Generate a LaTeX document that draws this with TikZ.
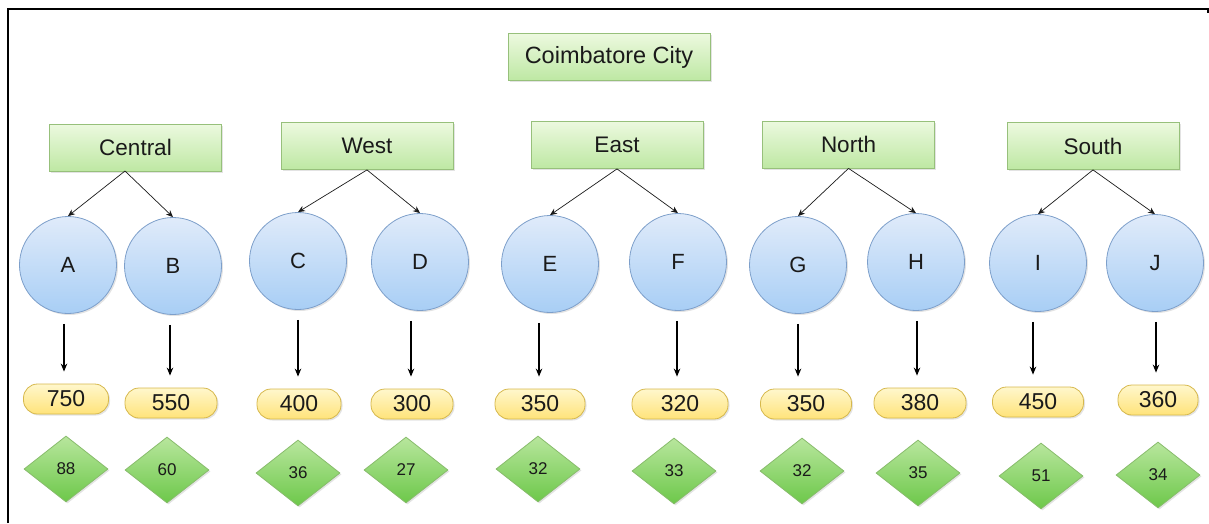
\documentclass[tikz,border=0pt]{standalone}
\usepackage{fontspec}
\setmainfont{Liberation Sans}
\usetikzlibrary{shapes.geometric,shadows,arrows.meta}

\definecolor{boxtop}{HTML}{ECF9DF}
\definecolor{boxbot}{HTML}{BEE8A3}
\definecolor{boxline}{HTML}{97C07B}
\definecolor{cirtop}{HTML}{E0EBFA}
\definecolor{cirbot}{HTML}{A8CEF5}
\definecolor{cirline}{HTML}{7D9FCA}
\definecolor{pilltop}{HTML}{FFF7CC}
\definecolor{pillbot}{HTML}{FFE37A}
\definecolor{pillline}{HTML}{D6B84C}
\definecolor{diatop}{HTML}{B8E69D}
\definecolor{diabot}{HTML}{6DC84A}
\definecolor{dialine}{HTML}{88BC6C}
\definecolor{ink}{HTML}{1A1A1A}

\tikzset{
  soft/.style={drop shadow={opacity=0.22, shadow xshift=1.5pt, shadow yshift=-1.5pt}},
  zonebox/.style={rectangle, draw=boxline, line width=0.8pt, top color=boxtop, bottom color=boxbot,
    minimum width=172pt, minimum height=47pt, inner sep=0pt, font=\fontsize{22.5}{26}\selectfont, text=ink, soft},
  titlebox/.style={zonebox, minimum width=202pt, minimum height=47pt, font=\fontsize{23.5}{27}\selectfont},
  area/.style={circle, draw=cirline, line width=0.8pt, top color=cirtop, bottom color=cirbot,
    minimum size=97pt, inner sep=0pt, font=\fontsize{22}{25}\selectfont, text=ink, soft},
  pill/.style={rectangle, rounded corners=14pt, draw=pillline, line width=0.8pt, top color=pilltop, bottom color=pillbot,
    minimum height=30pt, inner sep=0pt, font=\fontsize{23}{27}\selectfont, text=ink, soft},
  gem/.style={diamond, draw=dialine, line width=0.8pt, top color=diatop, bottom color=diabot,
    minimum width=84pt, minimum height=66pt, inner sep=0pt, font=\fontsize{17}{20}\selectfont, text=ink, soft},
  branch/.style={line width=0.7pt, draw=ink, -{Stealth[length=7pt,width=6pt]}},
  drop/.style={line width=1.8pt, draw=black, -{Stealth[length=8pt,width=6.5pt]}, shorten <=10pt, shorten >=12pt}
}

\begin{document}
\begin{tikzpicture}[x=1pt,y=-1pt]
\useasboundingbox (0,0) rectangle (1209,523);

% outer frame (top and left edges)
\draw[line width=1.8pt] (8,523) -- (8,9) -- (1208,9) -- (1208,13);

% title
\node[titlebox] (city) at (609,57) {Coimbatore City};

% zones
\node[zonebox] (central) at (135.5,147.5) {Central};
\node[zonebox] (west)    at (367,146)     {West};
\node[zonebox] (east)    at (617,145)     {East};
\node[zonebox] (north)   at (848.5,144.5) {North};
\node[zonebox] (south)   at (1093,146)    {South};
\coordinate (capex) at (125,171);

% areas
\node[area] (A) at (68,265)  {A};
\node[area] (B) at (173,266) {B};
\node[area] (C) at (298,261) {C};
\node[area] (D) at (420,262) {D};
\node[area] (E) at (550,264) {E};
\node[area] (F) at (678,262) {F};
\node[area] (G) at (798,265) {G};
\node[area] (H) at (916,262) {H};
\node[area] (I) at (1038,263) {I};
\node[area] (J) at (1155,263) {J};

% counts
\node[pill, minimum width=85pt] (pA) at (66,399)   {750};
\node[pill, minimum width=92pt] (pB) at (171,403)  {550};
\node[pill, minimum width=84pt] (pC) at (299,404)  {400};
\node[pill, minimum width=82pt] (pD) at (412,404)  {300};
\node[pill, minimum width=90pt] (pE) at (540,404)  {350};
\node[pill, minimum width=96pt] (pF) at (680,404)  {320};
\node[pill, minimum width=91pt] (pG) at (806,404)  {350};
\node[pill, minimum width=92pt] (pH) at (920,403)  {380};
\node[pill, minimum width=91pt] (pI) at (1038,402) {450};
\node[pill, minimum width=80pt] (pJ) at (1158,400) {360};

% ratings
\node[gem] (dA) at (66,469)   {88};
\node[gem] (dB) at (167,470)  {60};
\node[gem] (dC) at (298,473)  {36};
\node[gem] (dD) at (406,470)  {27};
\node[gem] (dE) at (538,469)  {32};
\node[gem] (dF) at (674,471)  {33};
\node[gem] (dG) at (802,471)  {32};
\node[gem] (dH) at (918,473)  {35};
\node[gem] (dI) at (1041,476) {51};
\node[gem] (dJ) at (1158,475) {34};

% zone to area branches
\draw[branch] (capex) -- (A.north);
\draw[branch] (capex) -- (B.north);
\draw[branch] (west.south)  -- (C.north);
\draw[branch] (west.south)  -- (D.north);
\draw[branch] (east.south)  -- (E.north);
\draw[branch] (east.south)  -- (F.north);
\draw[branch] (north.south) -- (G.north);
\draw[branch] (north.south) -- (H.north);
\draw[branch] (south.south) -- (I.north);
\draw[branch] (south.south) -- (J.north);

% area to count arrows (each one sits a little off the circle centre)
\foreach \n/\dx in {A/-4,B/-3,C/0,D/-9,E/-11,F/-1,G/0,H/1,I/-5,J/1}
  \draw[drop] ([xshift=\dx pt]\n.south) -- ([xshift=\dx pt]\n.south |- p\n.north);
\end{tikzpicture}
\end{document}
